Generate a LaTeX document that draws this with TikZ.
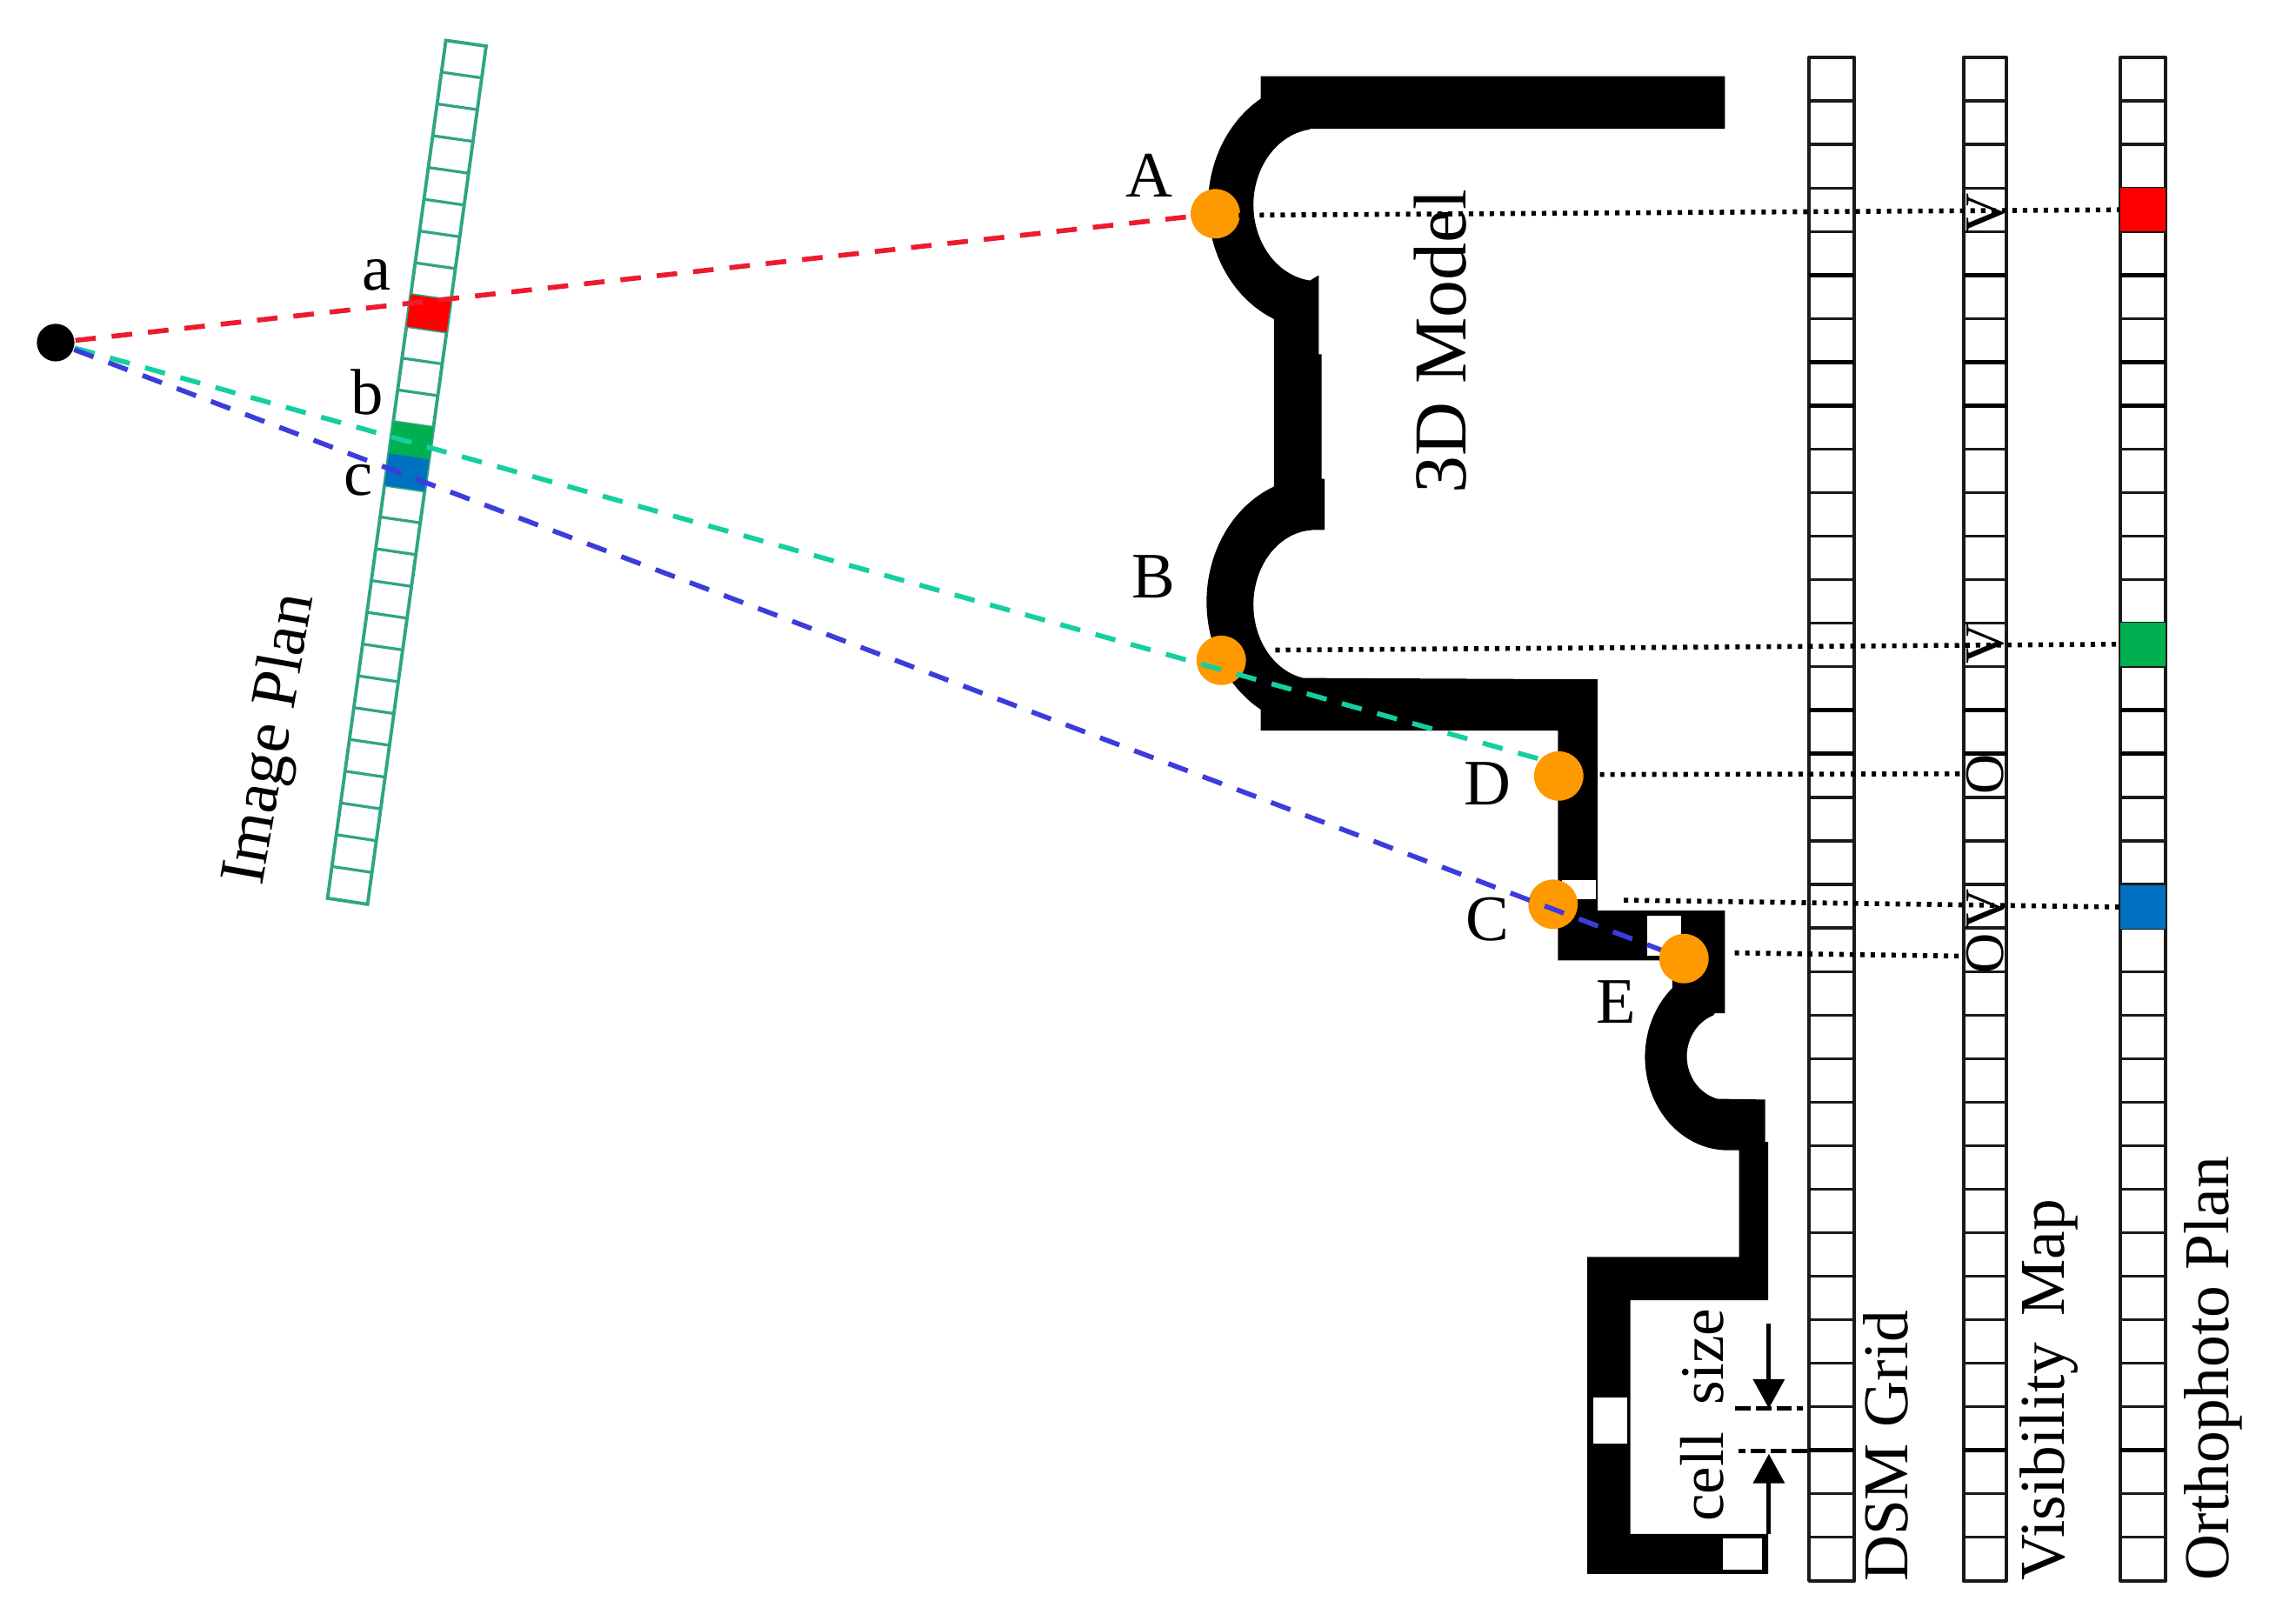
\documentclass[tikz,border=0pt]{standalone}
\usepackage{fontspec}
\setmainfont{Liberation Serif}
\usetikzlibrary{calc,arrows.meta}
\definecolor{dotorange}{HTML}{FF9900}
\definecolor{rayred}{HTML}{EC1C2E}
\definecolor{rayteal}{HTML}{14CFA0}
\definecolor{rayblue}{HTML}{3C3CDC}
\definecolor{cellred}{HTML}{FF0000}
\definecolor{cellgreen}{HTML}{00B050}
\definecolor{cellblue}{HTML}{0070C0}
\definecolor{planline}{HTML}{2FA585}
\definecolor{gridink}{HTML}{1A1A1A}
\tikzset{
  pt/.style={circle,fill=dotorange,minimum size=9.6pt,inner sep=0pt},
  ray/.style={line width=0.95pt,dash pattern=on 4pt off 3.1pt},
  link/.style={black,line width=0.95pt,dash pattern=on 0.85pt off 1.18pt},
  dimline/.style={black,line width=0.75pt,dash pattern=on 3pt off 1pt},
  dimarrow/.style={black,line width=0.85pt,-{Triangle[width=6pt,length=5.7pt]}},
  letter/.style={inner sep=0pt,font=\fontsize{12.6pt}{14pt}\selectfont},
  vlabel/.style={inner sep=0pt,rotate=90,anchor=base west,font=\fontsize{12.4pt}{14pt}\selectfont},
  mark letter/.style={inner sep=0pt,rotate=90,font=\fontsize{10.8pt}{12pt}\selectfont},
  gridbar/.style={gridink,line width=0.7pt,line join=round},
  gridrow/.style={gridink,line width=0.55pt},
  gridthick/.style={black,line width=0.85pt},
  cellbox/.style={rectangle,inner sep=0pt,minimum height=8.45pt}
}
\newcommand{\gridcolumn}[2]{%
  \draw[gridbar] (#1,39.2) rectangle (#2,1079.7);
  \foreach \r in {1,...,34}{\draw[gridrow] (#1,39.2+\r*29.73) -- (#2,39.2+\r*29.73);}
  \foreach \r in {5,7,8,15,16,32}{\draw[gridthick] (#1,39.2+\r*29.73) -- (#2,39.2+\r*29.73);}
}
\begin{document}
\begin{tikzpicture}[x=0.01cm,y=-0.01cm]
\fill[white] (0,0) rectangle (1568,1107);
\useasboundingbox (0,0) rectangle (1568,1107);

% 3D model section
\fill[black]
  (861,52) -- (1178,52) -- (1178,88) -- (894,88)
  -- plot[domain=263:97,samples=40,smooth] ({900+44*cos(\x)},{140+52*sin(\x)})
  -- (900.6,188) -- (900.6,242) -- (902.5,242) -- (902.5,327) -- (904.6,327) -- (904.6,362) -- (894,362)
  -- plot[domain=267:101,samples=40,smooth] ({898+42*cos(\x)},{413+51*sin(\x)})
  -- (1091,464) -- (1091,622) -- (1178,622) -- (1178,692) -- (1171,692)
  -- plot[domain=250:105,samples=40,smooth] ({1180+28*cos(\x)},{721.5+30*sin(\x)})
  -- (1205.5,751) -- (1205.5,780) -- (1207.5,780) -- (1207.5,888) -- (1113.4,888) -- (1113.4,1047.6)
  -- (1207.5,1047.6) -- (1207.5,1075) -- (1084,1075) -- (1084,858.5) -- (1187.6,858.5) -- (1187.6,785.6)
  -- plot[domain=90:228,samples=40,smooth] ({1180+56.6*cos(\x)},{722+63.6*sin(\x)})
  -- (1142,656) -- (1064,656) -- (1064,499) -- (861,499) -- (861,487)
  -- plot[domain=120:247.8,samples=40,smooth] ({898+74*cos(\x)},{411+85*sin(\x)})
  -- (870,217)
  -- plot[domain=113.6:238.7,samples=40,smooth] ({900+75*cos(\x)},{140+85*sin(\x)})
  -- (861,67) -- cycle;
\fill[white] (1067,601) rectangle (1090,614);
\fill[white] (1125,625.6) rectangle (1148,652.6);
\fill[white] (1087.8,954.6) rectangle (1111,985.8);
\fill[white] (1176.8,1050.5) rectangle (1203.5,1072);

% image plane strip
\coordinate (TL) at (304.5,27.6);
\coordinate (TR) at (332,31.5);
\coordinate (BL) at (223.7,613.5);
\coordinate (BR) at (251,617.6);
\draw[planline,line width=0.65pt] (TL) -- (TR) -- (BR) -- (BL) -- cycle;
\foreach \i in {1,...,26}{
  \pgfmathsetmacro{\ta}{\i/27}
  \draw[planline,line width=0.55pt] ($(TL)!\ta!(BL)$) -- ($(TR)!\ta!(BR)$);
}
\foreach \i/\c in {8/cellred,12/cellgreen,13/cellblue}{
  \pgfmathsetmacro{\ta}{\i/27}
  \pgfmathsetmacro{\tb}{(\i+1)/27}
  \fill[\c] ($(TL)!\ta!(BL)$) -- ($(TR)!\ta!(BR)$) -- ($(TR)!\tb!(BR)$) -- ($(TL)!\tb!(BL)$) -- cycle;
}

% grids
\gridcolumn{1235.5}{1266.4}
\gridcolumn{1341}{1370}
\gridcolumn{1448}{1479}

\node[cellbox,fill=cellred,minimum width=8.8pt] (orthoRed) at (1463.5,143.3) {};
\node[cellbox,fill=cellgreen,minimum width=8.8pt] (orthoGreen) at (1463.5,440) {};
\node[cellbox,fill=cellblue,minimum width=8.8pt] (orthoBlue) at (1463.5,619.5) {};

% visibility marks
\node[mark letter] (v1) at (1356,146) {V};
\node[mark letter] (v2) at (1356,440) {V};
\node[mark letter] (o1) at (1356,529) {O};
\node[mark letter] (v3) at (1356,621) {V};
\node[mark letter] (o2) at (1356,651) {O};

% points
\node[circle,fill=black,minimum size=7.3pt,inner sep=0pt] (focal) at (38,234) {};
\node[pt] (ptA) at (830,146) {};
\node[pt] (ptB) at (834,451) {};
\node[pt] (ptC) at (1060.6,617.6) {};
\coordinate (tealEnd) at (1056,519.7);
\coordinate (blueEnd) at (1150,654.7);

% rays
\draw[ray,rayred] (focal) -- (ptA);
\draw[ray,rayteal] (focal) -- (tealEnd);
\draw[ray,rayblue] (focal) -- (blueEnd);
\node[pt] (ptD) at (1064.5,530) {};
\node[pt] (ptE) at (1150,654.7) {};

% projection links
\coordinate (startA) at (846,147);
\coordinate (startB) at (871,444);
\coordinate (startD) at (1092.6,529);
\coordinate (startC) at (1109,614.8);
\coordinate (startE) at (1184.7,650.8);
\coordinate (endD) at (1340,528.5);
\coordinate (endE) at (1339,653);
\draw[link] (startA) -- (orthoRed.west);
\draw[link] (startB) -- (orthoGreen.west);
\draw[link] (startD) -- (endD);
\draw[link] (startC) -- (orthoBlue.west);
\draw[link] (startE) -- (endE);

% cell size dimension
\coordinate (dimUpA) at (1185,962);
\coordinate (dimUpB) at (1231,962);
\coordinate (dimLoA) at (1234,991);
\coordinate (dimLoB) at (1187,991);
\coordinate (arrDownS) at (1208,904);
\coordinate (arrDownE) at (1208,962);
\coordinate (arrUpS) at (1208,1048);
\coordinate (arrUpE) at (1208,993);
\draw[dimline] (dimUpA) -- (dimUpB);
\draw[dimline] (dimLoA) -- (dimLoB);
\draw[dimarrow] (arrDownS) -- (arrDownE);
\draw[dimarrow] (arrUpS) -- (arrUpE);

% labels
\node[letter] (la) at (257,188) {a};
\node[letter] (lb) at (251,268) {b};
\node[letter] (lc) at (244.6,328) {c};
\node[letter] (lA) at (785,120) {A};
\node[letter] (lB) at (788,394) {B};
\node[letter] (lD) at (1016,535) {D};
\node[letter] (lC) at (1016,628) {C};
\node[letter] (lE) at (1104,684) {E};
\node[inner sep=0pt,rotate=80,font=\fontsize{12.6pt}{14pt}\selectfont] (lplan) at (186,505) {Image Plan};
\node[inner sep=0pt,rotate=90,anchor=base west,font=\fontsize{14.5pt}{16pt}\selectfont] (lmodel) at (1001,338) {3D Model};
\node[vlabel,font=\fontsize{12pt}{14pt}\selectfont] (lcell) at (1177,1040) {cell\hspace{0.45em}size};
\node[vlabel] (ldsm) at (1303,1081) {DSM Grid};
\node[vlabel] (lvis) at (1410,1080) {Visibility\hspace{0.42em}Map};
\node[vlabel] (lorth) at (1522,1080) {Orthophoto Plan};
\end{tikzpicture}
\end{document}
